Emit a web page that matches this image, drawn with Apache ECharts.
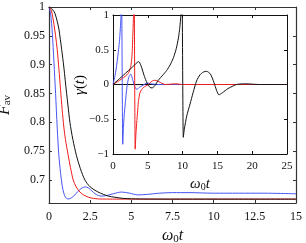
<!DOCTYPE html>
<html><head><meta charset="utf-8">
<script src="https://cdn.jsdelivr.net/npm/echarts@6/dist/echarts.min.js"></script>
<style>html,body{margin:0;padding:0;background:#fff}#c{width:306px;height:243px}</style>
</head><body><div id="c"></div>
<script>
// ---- main panel: F_av vs w0 t ----
const mainXTicks = [0, 2.5, 5, 7.5, 10, 12.5, 15];
const mainYTicks = [0.7, 0.75, 0.8, 0.85, 0.9, 0.95, 1];
const blueT = [0,0.1,0.2,0.3,0.4,0.5,0.6,0.7,0.8,0.9,1.0,1.15,1.3,1.5,1.75,2.0,2.2,2.4,2.6,2.8,3.0,3.2,3.5,3.9,4.4,4.9,5.4,6.0,6.7,7.5,8.5,10,11.5,13,15];
const blueF = [1,0.988,0.955,0.905,0.85,0.79,0.742,0.713,0.69,0.677,0.67,0.667,0.668,0.672,0.68,0.686,0.688,0.686,0.681,0.676,0.673,0.672,0.673,0.676,0.679,0.677,0.674,0.675,0.677,0.678,0.678,0.677,0.677,0.677,0.676];
const redT = [0,0.15,0.3,0.4,0.5,0.6,0.7,0.8,0.9,1.0,1.17,1.3,1.47,1.65,1.88,2.1,2.4,2.7,3.0,3.5,5,8,11,15];
const redF = [1,0.993,0.97,0.95,0.926,0.893,0.857,0.822,0.792,0.77,0.742,0.722,0.70,0.688,0.679,0.674,0.670,0.668,0.667,0.6668,0.6667,0.6667,0.6667,0.6667];
const blackT = [0,0.2,0.36,0.5,0.6,0.77,0.9,1.07,1.15,1.27,1.45,1.67,1.9,2.18,2.5,2.98,3.3,3.6,4.0,4.5,5.5,8,11,15];
const blackF = [1,0.996,0.989,0.975,0.962,0.926,0.896,0.85,0.83,0.80,0.77,0.742,0.72,0.70,0.688,0.679,0.675,0.672,0.67,0.668,0.667,0.6667,0.6667,0.6667];

// ---- inset: gamma(t) vs w0 t ----
const insetXTicks = [0, 5, 10, 15, 20, 25];
const insetYTicks = [-1, -0.5, 0, 0.5, 1];
const gBlueT = [0,0.3,0.57,0.8,0.95,1.08,1.15,1.22,1.4,1.5,1.6,1.76,2.0,2.25,2.55,2.85,3.2,3.45,3.8,4.15,4.9,5.5,6.5,8,12,18,25];
const gBlueV = [0,0.13,0.31,0.5,0.65,0.85,1.0,1.6,-0.86,-0.62,-0.45,-0.28,-0.04,0.1,0.15,0.06,-0.05,-0.07,-0.04,-0.02,0.02,0.01,0,0,0,0,0];
const gRedT = [0,0.8,1.52,2.0,2.24,2.45,2.57,2.67,2.76,2.86,2.95,3.02,3.19,3.3,3.43,3.67,3.9,4.4,5.1,5.6,6.05,6.6,7.5,9,10,12,25];
const gRedV = [0,0.05,0.1,0.14,0.17,0.22,0.27,0.35,0.46,0.75,1.0,1.8,-0.93,-0.7,-0.52,-0.23,-0.11,-0.04,0.0,0.05,0.06,0.04,0.0,0.01,0,0,0];
const gBlackT = [0,1,2,3,3.4,3.6,3.8,4.1,4.5,4.9,5.3,5.6,6.0,6.5,7.2,7.7,8.2,8.7,9.1,9.4,9.6,9.75,9.9,10.1,10.25,10.6,11.07,11.5,12.0,12.5,13.0,13.46,14.0,14.5,14.9,15.22,15.7,16.5,17.75,19,21,25];
const gBlackV = [0,0.09,0.18,0.27,0.31,0.33,0.32,0.25,0.12,0.02,-0.04,-0.05,-0.02,0.06,0.14,0.2,0.28,0.39,0.52,0.67,0.82,1.0,1.6,-0.76,-0.64,-0.45,-0.28,-0.12,0.05,0.14,0.18,0.19,0.15,0.03,-0.09,-0.15,-0.12,-0.06,0.0,0.01,0,0];
const zeroT = [0, 25];
const zeroV = [0, 0];

const pair = (a, b) => a.map((v, i) => [v, b[i]]);
const FONT = 'Liberation Serif';
const BLUE = '#4655f5', RED = '#f01c1c', BLACK = '#111111';
const fmtMinus = v => { const n = +(+v).toFixed(2); return n < 0 ? '\u2212' + Math.abs(n) : String(n); };

const frameAxis = (color, width) => ({
  axisLine: { show: true, onZero: false, lineStyle: { color, width } },
  splitLine: { show: false }
});

const richName = {
  i: { fontFamily: FONT, fontStyle: 'italic', fontSize: 16, color: '#111' },
  s: { fontFamily: FONT, fontSize: 11, color: '#111', padding: [7, 0, 0, 0] },
  n: { fontFamily: FONT, fontSize: 16, color: '#111' },
  sv: { fontFamily: FONT, fontSize: 11, color: '#111', padding: [5, 0, 0, 0] }
};
const richInset = {
  i: { fontFamily: FONT, fontStyle: 'italic', fontSize: 15, color: '#111' },
  s: { fontFamily: FONT, fontSize: 10, color: '#111', padding: [6, 0, 0, 0] },
  n: { fontFamily: FONT, fontSize: 15, color: '#111' }
};

const chart = echarts.init(document.getElementById('c'), null, { renderer: 'canvas' });
chart.setOption({
  animation: false,
  backgroundColor: '#fff',
  grid: [
    { left: 49, top: 7, right: 10, bottom: 40, containLabel: false, outerBoundsMode: 'none' },
    { left: 113, top: 15, right: 19, bottom: 89, containLabel: false, outerBoundsMode: 'none', show: true, backgroundColor: '#fff', borderWidth: 0, z: 5 }
  ],
  graphic: [{
    type: 'text', x: 80, y: 85, rotation: Math.PI / 2, z: 100,
    style: { text: '{i|γ}{n|(}{i|t}{n|)}', rich: richInset, align: 'center', verticalAlign: 'middle' }
  }],
  xAxis: [
    Object.assign({
      type: 'value', gridIndex: 0, min: 0, max: 15, interval: 2.5, position: 'bottom',
      axisTick: { show: true, inside: true, length: 3, lineStyle: { color: '#333' } },
      axisLabel: { margin: 8, fontFamily: FONT, fontSize: 12, color: '#111' },
      name: '{i|ω}{s|0}{i|t}', nameLocation: 'middle', nameGap: 22,
      nameTextStyle: { rich: richName }
    }, frameAxis('#333', 1.2)),
    Object.assign({
      type: 'value', gridIndex: 0, min: 0, max: 15, interval: 2.5, position: 'top',
      axisTick: { show: true, inside: true, length: 3, lineStyle: { color: '#333' } },
      axisLabel: { show: false }
    }, frameAxis('#333', 1.2)),
    Object.assign({
      type: 'value', gridIndex: 1, min: 0, max: 25, interval: 5, position: 'bottom',
      axisTick: { show: true, inside: true, length: 3, lineStyle: { color: '#111' } },
      axisLabel: { margin: 7, fontFamily: FONT, fontSize: 11, color: '#111' },
      name: '{i|ω}{s|0}{i|t}', nameLocation: 'middle', nameGap: 20,
      nameTextStyle: { rich: richInset }, z: 6
    }, frameAxis('#111', 1)),
    Object.assign({
      type: 'value', gridIndex: 1, min: 0, max: 25, interval: 5, position: 'top',
      axisTick: { show: true, inside: true, length: 3, lineStyle: { color: '#111' } },
      axisLabel: { show: false }, z: 6
    }, frameAxis('#111', 1))
  ],
  yAxis: [
    Object.assign({
      type: 'value', gridIndex: 0, min: 0.66, max: 1, position: 'left',
      axisTick: { show: true, inside: true, length: 3, customValues: mainYTicks, lineStyle: { color: '#333' } },
      axisLabel: { margin: 4, fontFamily: FONT, fontSize: 12, color: '#111', customValues: mainYTicks, formatter: v => String(+v.toFixed(2)) },
      name: '{i|F}{sv|av}', nameLocation: 'middle', nameGap: 30, nameRotate: 90,
      nameTextStyle: { rich: richName }
    }, frameAxis('#333', 1.2)),
    Object.assign({
      type: 'value', gridIndex: 0, min: 0.66, max: 1, position: 'right',
      axisTick: { show: true, inside: true, length: 3, customValues: mainYTicks, lineStyle: { color: '#333' } },
      axisLabel: { show: false }
    }, frameAxis('#333', 1.2)),
    Object.assign({
      type: 'value', gridIndex: 1, min: -1, max: 1, position: 'left',
      axisTick: { show: true, inside: true, length: 3, customValues: insetYTicks, lineStyle: { color: '#111' } },
      axisLabel: { margin: 4, fontFamily: FONT, fontSize: 11, color: '#111', customValues: insetYTicks, formatter: fmtMinus, hideOverlap: false },
      z: 6
    }, frameAxis('#111', 1)),
    Object.assign({
      type: 'value', gridIndex: 1, min: -1, max: 1, position: 'right',
      axisTick: { show: true, inside: true, length: 3, customValues: insetYTicks, lineStyle: { color: '#111' } },
      axisLabel: { show: false }, z: 6
    }, frameAxis('#111', 1))
  ],
  series: [
    { type: 'line', xAxisIndex: 0, yAxisIndex: 0, data: pair(blueT, blueF), showSymbol: false, smooth: 0.3, lineStyle: { color: BLUE, width: 1 } },
    { type: 'line', xAxisIndex: 0, yAxisIndex: 0, data: pair(redT, redF), showSymbol: false, smooth: 0.3, lineStyle: { color: RED, width: 1 } },
    { type: 'line', xAxisIndex: 0, yAxisIndex: 0, data: pair(blackT, blackF), showSymbol: false, smooth: 0.3, lineStyle: { color: BLACK, width: 1 } },
    { type: 'line', xAxisIndex: 2, yAxisIndex: 2, data: pair(zeroT, zeroV), showSymbol: false, z: 6, lineStyle: { color: BLACK, width: 1 } },
    { type: 'line', xAxisIndex: 2, yAxisIndex: 2, data: pair(gBlueT, gBlueV), showSymbol: false, smooth: 0.2, clip: true, z: 6, lineStyle: { color: BLUE, width: 1 } },
    { type: 'line', xAxisIndex: 2, yAxisIndex: 2, data: pair(gRedT, gRedV), showSymbol: false, smooth: 0.2, clip: true, z: 6, lineStyle: { color: RED, width: 1 } },
    { type: 'line', xAxisIndex: 2, yAxisIndex: 2, data: pair(gBlackT, gBlackV), showSymbol: false, smooth: 0.2, clip: true, z: 6, lineStyle: { color: BLACK, width: 1 } }
  ]
});
</script>
</body></html>
